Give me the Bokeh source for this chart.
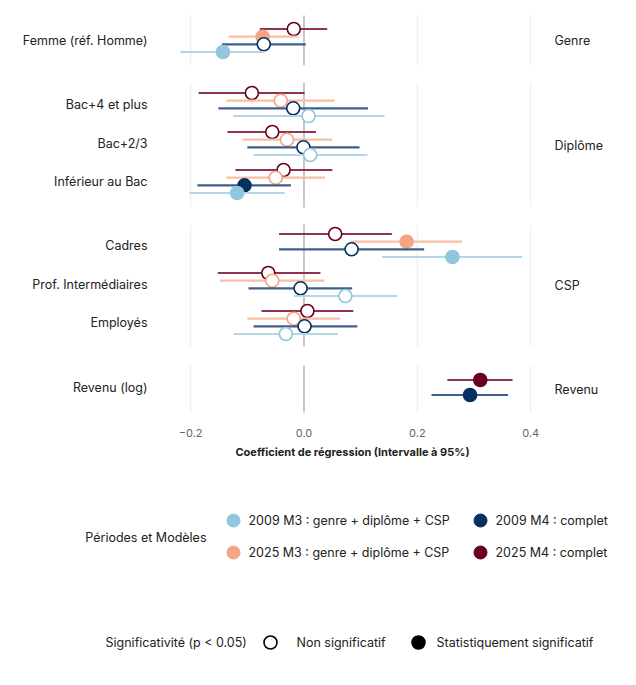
from bokeh.plotting import figure
from bokeh.models import Range1d, ColumnDataSource
from bokeh.embed import file_html
from bokeh.resources import INLINE
from bokeh.core.properties import value

FONT = "Inter"
variables = ["Femme (réf. Homme)", "Bac+4 et plus", "Bac+2/3", "Inférieur au Bac",
             "Cadres", "Prof. Intermédiaires", "Employés", "Revenu (log)"]
facets = ["Genre", "Diplôme", "CSP", "Revenu"]
var_facet = [0, 1, 1, 1, 2, 2, 2, 3]

series = ["2025 M4 : complet", "2025 M3 : genre + diplôme + CSP",
          "2009 M4 : complet", "2009 M3 : genre + diplôme + CSP"]
colors = ["#67001f", "#f4a582", "#053061", "#92c5de"]
line_colors = ["#8c3350", "#f7bfa3", "#3d5f88", "#b3d7ea"]

est = {
 "2025 M4": [-0.018, -0.092, -0.056, -0.036, 0.055, -0.063, 0.006, 0.311],
 "2025 M3": [-0.073, -0.041, -0.030, -0.050, 0.181, -0.056, -0.018, None],
 "2009 M4": [-0.071, -0.019, -0.001, -0.105, 0.084, -0.006, 0.001, 0.293],
 "2009 M3": [-0.143, 0.008, 0.011, -0.118, 0.262, 0.073, -0.032, None],
}
lo = {
 "2025 M4": [-0.078, -0.186, -0.135, -0.121, -0.044, -0.152, -0.075, 0.253],
 "2025 M3": [-0.133, -0.137, -0.108, -0.137, 0.082, -0.148, -0.100, None],
 "2009 M4": [-0.145, -0.151, -0.100, -0.188, -0.044, -0.098, -0.089, 0.225],
 "2009 M3": [-0.218, -0.125, -0.089, -0.202, 0.138, -0.018, -0.124, None],
}
hi = {
 "2025 M4": [0.041, 0.001, 0.021, 0.050, 0.155, 0.029, 0.087, 0.368],
 "2025 M3": [-0.011, 0.054, 0.050, 0.037, 0.279, 0.036, 0.064, None],
 "2009 M4": [0.003, 0.113, 0.098, -0.023, 0.212, 0.085, 0.094, 0.360],
 "2009 M3": [-0.070, 0.142, 0.112, -0.034, 0.385, 0.165, 0.060, None],
}
sig = {
 "2025 M4": [0, 0, 0, 0, 0, 0, 0, 1],
 "2025 M3": [1, 0, 0, 0, 1, 0, 0, 0],
 "2009 M4": [0, 0, 0, 1, 0, 0, 0, 1],
 "2009 M3": [1, 0, 0, 1, 1, 0, 0, 0],
}
xticks = [-0.2, 0.0, 0.2, 0.4]
xtick_labels = ["\u22120.2", "0.0", "0.2", "0.4"]

# layout (page-like pixel units)
W, H = 620, 669
X0, SC = 303.5, 566.7          # page x of 0 and px per unit


def px(x):                      # page x -> data x
    return (x - X0) / SC


row_y = [40, 104, 143, 181, 245, 284, 322, 387]
panels = [(15, 65), (82, 207), (224, 346), (365, 412)]
off4 = [-11.5, -3.8, 3.8, 11.5]
off2 = {"2025 M4": -7.5, "2009 M4": 7.5}

p = figure(width=W, height=H, output_backend="svg", toolbar_location=None,
           x_range=Range1d(px(0), px(W)), y_range=Range1d(H, 0), min_border=0)
p.outline_line_color = None
p.grid.visible = False
p.axis.visible = False

for (a, b) in panels:
    for t in xticks:
        p.segment(x0=t, x1=t, y0=a, y1=b, line_color="#ebebeb", line_width=1)
    p.segment(x0=0, x1=0, y0=a, y1=b, line_color="#c4c4c4", line_width=1.8)

keys = ["2025 M4", "2025 M3", "2009 M4", "2009 M3"]
for k, key in enumerate(keys):
    ys, xs, l, h, fill = [], [], [], [], []
    for i in range(len(variables)):
        if est[key][i] is None:
            continue
        o = off2[key] if var_facet[i] == 3 else off4[k]
        ys.append(row_y[i] + o)
        xs.append(est[key][i]); l.append(lo[key][i]); h.append(hi[key][i])
        fill.append(colors[k] if sig[key][i] else "white")
    src = ColumnDataSource(dict(y=ys, x=xs, lo=l, hi=h, fill=fill))
    p.segment(x0="lo", x1="hi", y0="y", y1="y", source=src, line_color=line_colors[k], line_width=2.2)
    p.scatter(x="x", y="y", source=src, size=13, fill_color="fill", line_color=colors[k], line_width=1.6)

txt = dict(text_font=value(FONT), text_baseline="middle", text_color="#222222")
# tick labels and axis title
p.text(x=xticks, y=[432] * 4, text=xtick_labels, text_align="center",
       text_font_size="11px", text_font=value(FONT), text_baseline="middle", text_color="#666666")
p.text(x=[px(352)], y=[451], text=["Coefficient de régression (Intervalle à 95%)"],
       text_align="center", text_font_size="11px", text_font_style="bold", **txt)
# variable labels and facet labels
p.text(x=[px(147)] * len(variables), y=row_y, text=variables, text_align="right",
       text_font_size="12.5px", **txt)
p.text(x=[px(554)] * len(facets), y=[(a + b) / 2 for a, b in panels], text=facets,
       text_align="left", text_font_size="12.5px", **txt)

# legend
leg_order = [3, 2, 1, 0]
leg_x = [233, 480, 233, 480]
leg_y = [520, 520, 552, 552]
p.scatter(x=[px(v) for v in leg_x], y=leg_y, size=13, fill_color=[colors[i] for i in leg_order],
          line_color=[colors[i] for i in leg_order])
p.text(x=[px(v + 15) for v in leg_x], y=leg_y, text=[series[i] for i in leg_order],
       text_font_size="12.5px", **txt)
p.text(x=[px(206)], y=[537], text=["Périodes et Modèles"], text_align="right",
       text_font_size="12.5px", **txt)
p.text(x=[px(105)], y=[642], text=["Significativité (p < 0.05)"],
       text_font_size="12.5px", **txt)
p.scatter(x=[px(270), px(418)], y=[642, 642], size=13, fill_color=["white", "black"],
          line_color="black", line_width=1.6)
p.text(x=[px(296), px(436)], y=[642, 642], text=["Non significatif", "Statistiquement significatif"],
       text_font_size="12.5px", **txt)

open("out.html", "w").write(file_html(p, INLINE))
